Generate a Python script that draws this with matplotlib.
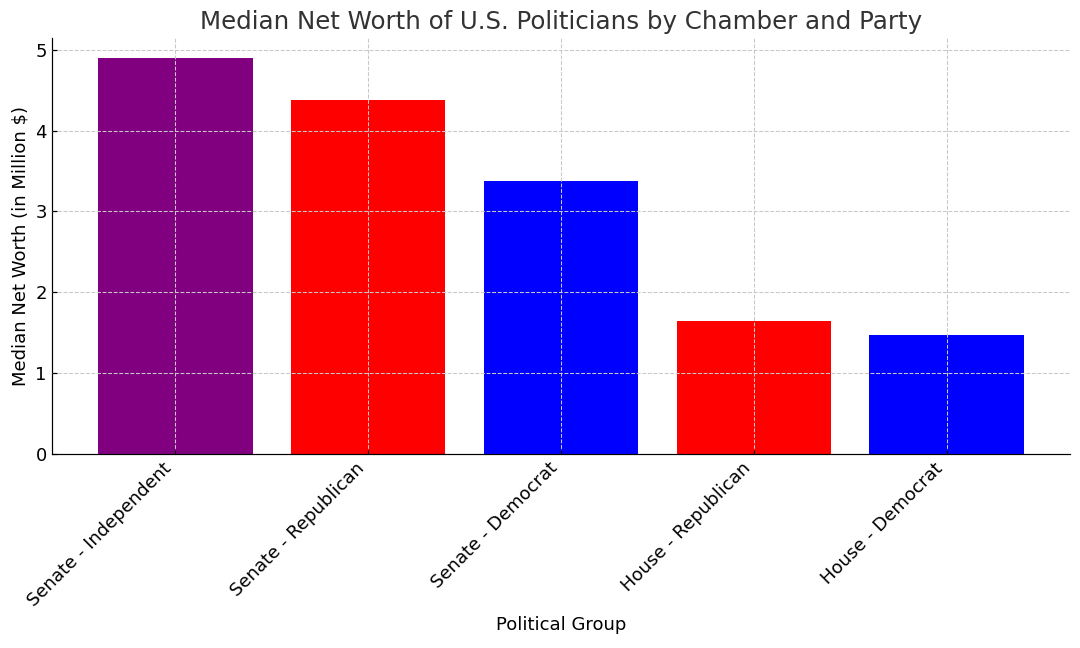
import matplotlib
matplotlib.use("Agg")
import matplotlib.pyplot as plt

groups = ["Senate - Independent", "Senate - Republican", "Senate - Democrat",
          "House - Republican", "House - Democrat"]
values = [4.9, 4.38, 3.38, 1.65, 1.47]
colors = ["purple", "red", "blue", "red", "blue"]

fig = plt.figure(figsize=(10, 6), dpi=108)
ax = fig.add_axes([52/1080, 1 - 454/648, (1070-52)/1080, (454-38)/648])
ax.bar(groups, values, color=colors)
ax.set_title("Median Net Worth of U.S. Politicians by Chamber and Party",
             fontsize=16.3, color="#333333")
ax.set_xlabel("Political Group", fontsize=12, labelpad=4)
ax.set_ylabel("Median Net Worth (in Million $)", fontsize=12)
ax.tick_params(axis="both", labelsize=12, direction="in", length=3)
plt.setp(ax.get_xticklabels(), rotation=45, ha="right")
ax.grid(True, linestyle="--", color="#c8c8c8", linewidth=0.7)
ax.set_axisbelow(False)
ax.spines["top"].set_visible(False)
ax.spines["right"].set_visible(False)
fig.savefig("out.png", dpi=108)
